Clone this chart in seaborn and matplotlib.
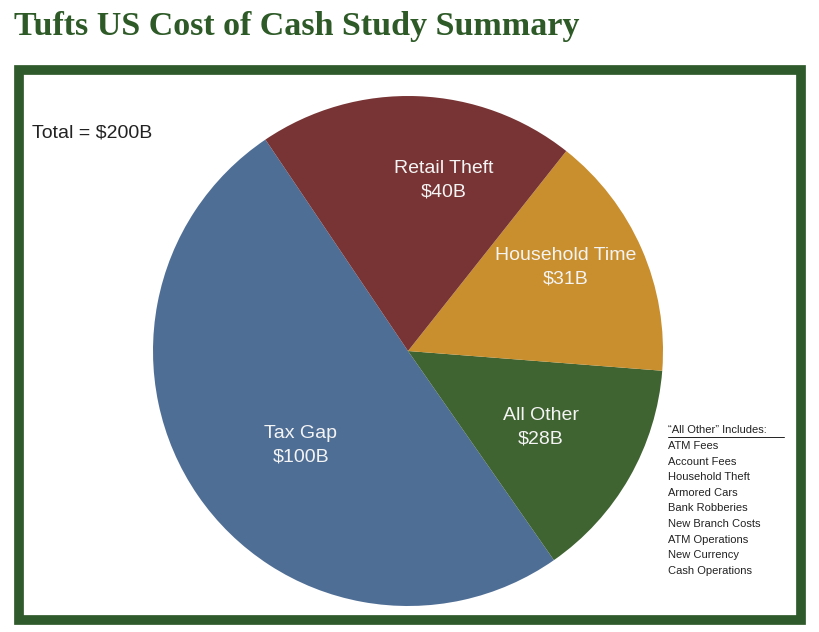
import matplotlib
matplotlib.use("Agg")
import matplotlib.pyplot as plt
import seaborn as sns
from matplotlib.patches import Rectangle

sns.set_theme(style="white")
plt.rcParams['font.family'] = ['Liberation Sans', 'DejaVu Sans']

categories = ["Tax Gap", "All Other", "Household Time", "Retail Theft"]
values = [100, 28, 31, 40]
labels = ["Tax Gap\n$100B", "All Other\n$28B", "Household Time\n$31B", "Retail Theft\n$40B"]
colors = sns.color_palette(["#4f6e96", "#3f6331", "#c98e2d", "#783434"])
other_items = ["ATM Fees", "Account Fees", "Household Theft", "Armored Cars", "Bank Robberies",
               "New Branch Costs", "ATM Operations", "New Currency", "Cash Operations"]

W, H = 820, 632
fig = plt.figure(figsize=(W/100, H/100), dpi=100)
fig.patch.set_facecolor("white")

fig.text(14/W, 1-26/H, "Tufts US Cost of Cash Study Summary", family="Liberation Serif",
         fontweight="bold", fontsize=24.5, color="#2d5a27", va="center", ha="left")
fig.patches.append(Rectangle((19/W, 1-620/H), 782/W, 550/H, transform=fig.transFigure,
                             fill=False, edgecolor="#2f5a2c", linewidth=7))

ax = fig.add_axes([153/W, 1-606/H, 510/W, 510/H])
wedges, texts = ax.pie(values, colors=colors, startangle=124, counterclock=True,
                       labels=labels, labeldistance=0.5,
                       wedgeprops=dict(linewidth=0),
                       textprops=dict(color="#f4f4f4", fontsize=14, ha="center", va="center"))
pos = {0: (-0.42, -0.37), 1: (0.52, -0.3), 2: (0.62, 0.33), 3: (0.14, 0.67)}
for i, t in enumerate(texts):
    t.set_position(pos[i])
    t.set_linespacing(1.5)
ax.set_xlim(-1, 1); ax.set_ylim(-1, 1); ax.set_aspect("equal"); ax.axis("off")

fig.text(32/W, 1-133/H, "Total = $200B", fontsize=14, color="#222222", va="center")
fig.text(668/W, 1-430/H, "\u201cAll Other\u201d Includes:", fontsize=8, color="#222222",
         va="center", ha="left")
fig.lines.append(plt.Line2D([668/W, 784/W], [1-437/H, 1-437/H], transform=fig.transFigure,
                            color="#222222", linewidth=0.7))
for i, item in enumerate(other_items):
    fig.text(668/W, 1-(446+15.6*i)/H, item, fontsize=8, color="#222222", va="center")

fig.savefig("out.png", dpi=100)
